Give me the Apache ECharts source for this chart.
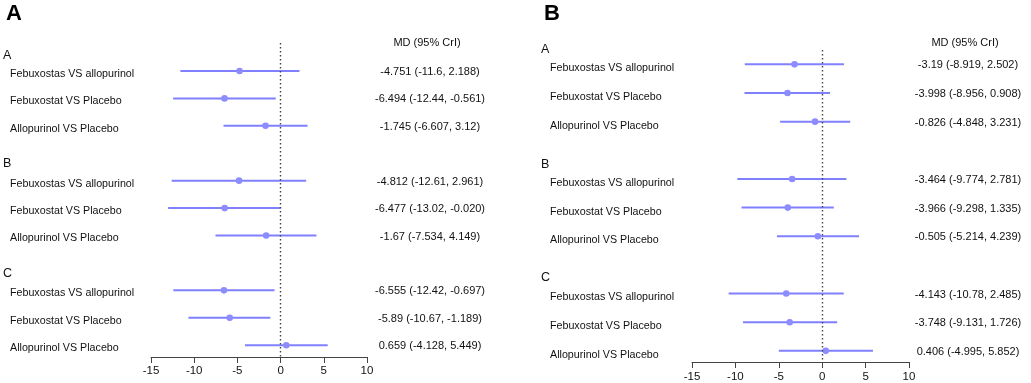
<!DOCTYPE html>
<html>
<head>
<meta charset="utf-8">
<script src="https://cdn.jsdelivr.net/npm/echarts@6/dist/echarts.min.js"></script>
<style>
html, body { margin: 0; padding: 0; background: #fff; }
#chart { width: 1031px; height: 383px; }
</style>
</head>
<body>
<div id="chart"></div>
<script>
// 森林图 A / B 两个面板
var comparisons = ['Febuxostas VS allopurinol', 'Febuxostat VS Placebo', 'Allopurinol VS Placebo'];
var groups = ['A', 'B', 'C'];
var xTicks = [-15, -10, -5, 0, 5, 10];

var mdA = [-4.751, -6.494, -1.745, -4.812, -6.477, -1.67, -6.555, -5.89, 0.659];
var lowA = [-11.6, -12.44, -6.607, -12.61, -13.02, -7.534, -12.42, -10.67, -4.128];
var highA = [2.188, -0.561, 3.12, 2.961, -0.020, 4.149, -0.697, -1.189, 5.449];
var textA = ['-4.751 (-11.6, 2.188)', '-6.494 (-12.44, -0.561)', '-1.745 (-6.607, 3.12)',
             '-4.812 (-12.61, 2.961)', '-6.477 (-13.02, -0.020)', '-1.67 (-7.534, 4.149)',
             '-6.555 (-12.42, -0.697)', '-5.89 (-10.67, -1.189)', '0.659 (-4.128, 5.449)'];

var mdB = [-3.19, -3.998, -0.826, -3.464, -3.966, -0.505, -4.143, -3.748, 0.406];
var lowB = [-8.919, -8.956, -4.848, -9.774, -9.298, -5.214, -10.78, -9.131, -4.995];
var highB = [2.502, 0.908, 3.231, 2.781, 1.335, 4.239, 2.485, 1.726, 5.852];
var textB = ['-3.19 (-8.919, 2.502)', '-3.998 (-8.956, 0.908)', '-0.826 (-4.848, 3.231)',
             '-3.464 (-9.774, 2.781)', '-3.966 (-9.298, 1.335)', '-0.505 (-5.214, 4.239)',
             '-4.143 (-10.78, 2.485)', '-3.748 (-9.131, 1.726)', '0.406 (-4.995, 5.852)'];

// 行位置（每组三行，组间空两行）
var rowPos = [0, 1, 2, 4, 5, 6, 8, 9, 10];

var FONT = "'Liberation Sans', Arial, sans-serif";
var TEXT_COLOR = '#111';
var LINE_COLOR = '#8080ff';
var DOT_COLOR = '#8c8cff';

var panels = [
    { md: mdA, low: lowA, high: highA, text: textA,
      grid: { left: 151, right: 664, top: 43, bottom: 26 },
      yMin: -1.02, yMax: 10.43, labelX: 10, mdX: 430, headerX: 3,
      labelDy: 3, mdDy: 1, headerRows: [-0.58, 3.36, 7.37], mdHeadRow: -1.02, labelMargin: 8 },
    { md: mdB, low: lowB, high: highB, text: textB,
      grid: { left: 692, right: 122, top: 50, bottom: 21 },
      yMin: -0.5, yMax: 10.39, labelX: 550, mdX: 968, headerX: 541,
      labelDy: 4, mdDy: 1, headerRows: [-0.5, 3.51, 7.45], mdHeadRow: -0.73, labelMargin: 9 }
];

var chart = echarts.init(document.getElementById('chart'), null, { renderer: 'canvas' });

var grids = [], xAxes = [], yAxes = [], series = [];

panels.forEach(function (p, k) {
    grids.push(p.grid);
    xAxes.push({
        type: 'value', gridIndex: k,
        min: xTicks[0], max: xTicks[xTicks.length - 1], interval: 5,
        splitLine: { show: false },
        axisLine: { show: true, onZero: false, lineStyle: { color: '#444', width: 1 } },
        axisTick: { show: true, inside: false, length: 6, lineStyle: { color: '#444' } },
        axisLabel: { color: TEXT_COLOR, fontSize: 11.5, fontFamily: FONT, margin: p.labelMargin }
    });
    yAxes.push({
        type: 'value', gridIndex: k, inverse: true,
        min: p.yMin, max: p.yMax, show: false
    });

    var rows = p.md.map(function (v, i) {
        return [v, p.low[i], p.high[i], rowPos[i]];
    });

    // 置信区间 + 点估计 + 文字
    series.push({
        type: 'custom', xAxisIndex: k, yAxisIndex: k, clip: false,
        data: rows,
        renderItem: function (params, api) {
            var i = params.dataIndex;
            var r = api.value(3);
            var pLo = api.coord([api.value(1), r]);
            var pHi = api.coord([api.value(2), r]);
            var pMd = api.coord([api.value(0), r]);
            return {
                type: 'group',
                children: [
                    { type: 'line', shape: { x1: pLo[0], y1: pLo[1], x2: pHi[0], y2: pHi[1] },
                      style: { stroke: LINE_COLOR, lineWidth: 2 } },
                    { type: 'circle', shape: { cx: pMd[0], cy: pMd[1], r: 3.3 },
                      style: { fill: DOT_COLOR } },
                    { type: 'text', x: p.labelX, y: pMd[1] + p.labelDy,
                      style: { text: comparisons[i % 3], fill: TEXT_COLOR, font: '10.7px ' + FONT,
                               align: 'left', verticalAlign: 'middle' } },
                    { type: 'text', x: p.mdX, y: pMd[1] + p.mdDy,
                      style: { text: p.text[i], fill: TEXT_COLOR, font: '11px ' + FONT,
                               align: 'center', verticalAlign: 'middle' } }
                ]
            };
        }
    });

    // 分组标题与列标题
    series.push({
        type: 'custom', xAxisIndex: k, yAxisIndex: k, clip: false, silent: true,
        data: groups.map(function (g, j) { return [0, p.headerRows[j]]; }),
        renderItem: function (params, api) {
            var y = api.coord([0, api.value(1)])[1];
            var children = [
                { type: 'text', x: p.headerX, y: y,
                  style: { text: groups[params.dataIndex], fill: TEXT_COLOR, font: '12.5px ' + FONT,
                           align: 'left', verticalAlign: 'middle' } }
            ];
            if (params.dataIndex === 0) {
                var yh = api.coord([0, p.mdHeadRow])[1];
                children.push({ type: 'text', x: p.mdX - 3, y: yh,
                    style: { text: 'MD (95% CrI)', fill: TEXT_COLOR, font: '11px ' + FONT,
                             align: 'center', verticalAlign: 'middle' } });
            }
            return { type: 'group', children: children };
        }
    });

    // 无效线 x = 0
    series.push({
        type: 'line', xAxisIndex: k, yAxisIndex: k, data: [], silent: true,
        markLine: {
            silent: true, symbol: ['none', 'none'], label: { show: false },
            lineStyle: { color: '#444', type: [1.5, 2.5], width: 1.4 },
            data: [{ xAxis: 0 }]
        }
    });
});

chart.setOption({
    animation: false,
    textStyle: { fontFamily: FONT },
    title: [
        { text: 'A', left: 1, top: -2, textStyle: { fontSize: 22, fontWeight: 'bold', color: '#000', fontFamily: FONT } },
        { text: 'B', left: 539, top: -2, textStyle: { fontSize: 22, fontWeight: 'bold', color: '#000', fontFamily: FONT } }
    ],
    grid: grids,
    xAxis: xAxes,
    yAxis: yAxes,
    series: series
});
</script>
</body>
</html>
